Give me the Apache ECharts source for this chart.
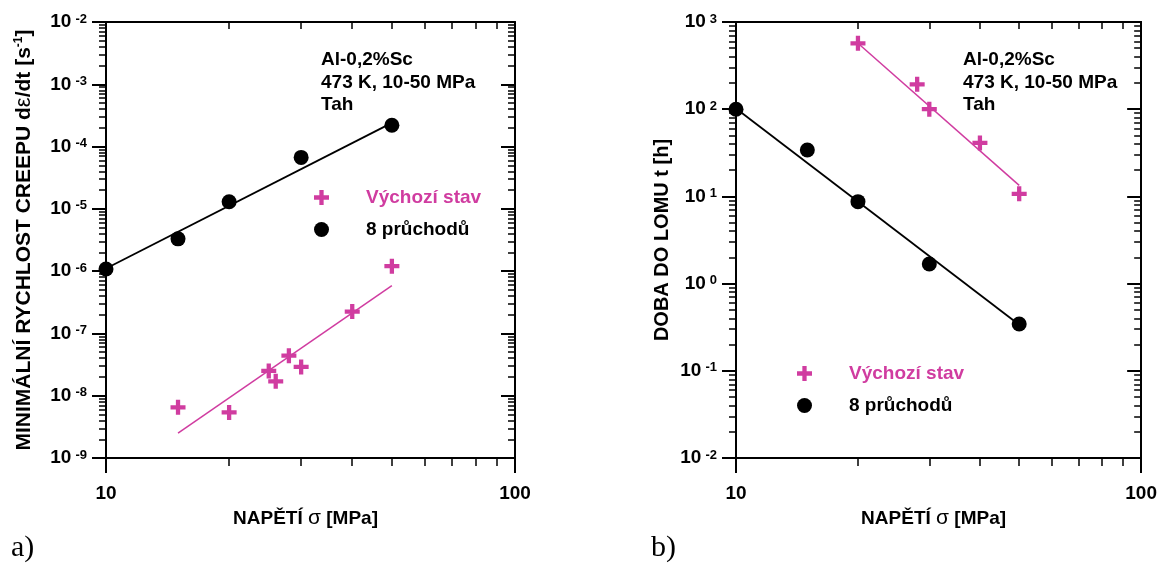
<!DOCTYPE html>
<html>
<head>
<meta charset="utf-8">
<script src="https://cdn.jsdelivr.net/npm/echarts@6/dist/echarts.min.js"></script>
<style>
  html, body { margin: 0; padding: 0; background: #fff; }
  #chart { width: 1160px; height: 564px; }
</style>
</head>
<body>
<div id="chart"></div>
<script>
// a) minimum creep rate vs. applied stress
const stressA_initial = [15, 20, 25, 26, 28, 30, 40, 50];
const rateA_initial   = [6.5e-9, 5.4e-9, 2.5e-8, 1.7e-8, 4.4e-8, 2.9e-8, 2.24e-7, 1.2e-6];
const stressA_ecap    = [10, 15, 20, 30, 50];
const rateA_ecap      = [1.08e-6, 3.3e-6, 1.3e-5, 6.7e-5, 2.2e-4];
const fitA_initial    = [[15, 2.5e-9], [50, 5.85e-7]];
const fitA_ecap       = [[10, 1.1e-6], [50, 2.4e-4]];

// b) time to fracture vs. applied stress
const stressB_initial = [20, 28, 30, 40, 50];
const timeB_initial   = [570, 193, 100, 41, 10.7];
const stressB_ecap    = [10, 15, 20, 30, 50];
const timeB_ecap      = [100, 34, 8.7, 1.68, 0.344];
const fitB_initial    = [[20, 570], [50, 13.4]];
const fitB_ecap       = [[10, 102], [50, 0.337]];

const seriesNames = ['Výchozí stav', '8 průchodů'];
const infoLines   = ['Al-0,2%Sc', '473 K, 10-50 MPa', 'Tah'];
const panelLabels = ['a)', 'b)'];

const PINK = '#d03ca0';
const FONT = '"Liberation Sans", Arial, sans-serif';
const SERIF = '"Liberation Serif", "Times New Roman", serif';
const PLUS = 'path://M5,0H9V5H14V9H9V14H5V9H0V5H5Z';

// tick positions for a decade axis drawn in log10 space
function minorLog(lo, hi) {
  const out = [];
  for (let n = lo; n < hi; n++) for (let k = 2; k <= 9; k++) out.push(n + Math.log10(k));
  return out;
}
function majorLog(lo, hi) {
  const out = [];
  for (let n = lo; n <= hi; n++) out.push(n);
  return out;
}
const zip = (xs, ys) => xs.map((x, i) => [x, ys[i]]);

const grids = [
  { left: 106, top: 22, width: 409, height: 436, yLo: -9, yHi: -2 },
  { left: 736, top: 22, width: 407, height: 436, yLo: -2, yHi: 3 }
];

const tickLabelRich = {
  b: { fontFamily: FONT, fontWeight: 'bold', fontSize: 19, color: '#000' },
  s: { fontFamily: FONT, fontWeight: 'bold', fontSize: 13, color: '#000', verticalAlign: 'top', padding: [0, 0, 0, 4] }
};

const xAxes = [], yAxes = [];
grids.forEach((g, gi) => {
  const lineStyle = { color: '#000', width: 2 };
  // main log axis: bottom
  xAxes.push({
    gridIndex: gi, type: 'log', logBase: 10, min: 10, max: 100, position: 'bottom',
    axisLine: { show: true, onZero: false, lineStyle },
    axisTick: { show: true, inside: false, length: 15, lineStyle: { color: '#000', width: 2 } },
    axisLabel: { show: true, margin: 26, fontFamily: FONT, fontWeight: 'bold', fontSize: 19, color: '#000' },
    splitLine: { show: false },
    name: '{b|NAPĚTÍ }{r|σ}{b| [MPa]}', nameLocation: 'middle', nameGap: 49,
    nameTextStyle: {
      padding: [0, 10, 0, 0],
      rich: {
        b: { fontFamily: FONT, fontWeight: 'bold', fontSize: 19, color: '#000' },
        r: { fontFamily: FONT, fontWeight: 'normal', fontSize: 21, color: '#000' }
      }
    }
  });
  // bottom minor ticks
  xAxes.push({
    gridIndex: gi, type: 'value', min: 1, max: 2, position: 'bottom',
    axisLine: { show: false, onZero: false },
    axisTick: { show: true, inside: false, length: 8, customValues: minorLog(1, 2), lineStyle: { color: '#000', width: 1.5 } },
    axisLabel: { show: false }, splitLine: { show: false }
  });
  // top frame with inward minor ticks
  xAxes.push({
    gridIndex: gi, type: 'value', min: 1, max: 2, position: 'top',
    axisLine: { show: true, onZero: false, lineStyle },
    axisTick: { show: true, inside: true, length: 7, customValues: minorLog(1, 2), lineStyle: { color: '#000', width: 1.5 } },
    axisLabel: { show: false }, splitLine: { show: false }
  });

  const yName = gi === 0
    ? '{b|MINIMÁLNÍ RYCHLOST CREEPU d}{r|ε}{b|/dt [s}{s|-1}{b|]}'
    : '{b|DOBA DO LOMU t [h]}';
  const nameSize = gi === 0 ? 21 : 20;
  // main log axis: left
  yAxes.push({
    gridIndex: gi, type: 'log', logBase: 10, min: Math.pow(10, g.yLo), max: Math.pow(10, g.yHi), position: 'left',
    axisLine: { show: true, onZero: false, lineStyle },
    axisTick: { show: true, inside: false, length: 14, lineStyle: { color: '#000', width: 2 } },
    axisLabel: {
      show: true, margin: 19,
      formatter: v => '{b|10}{s|' + Math.round(Math.log10(v)) + '}',
      rich: tickLabelRich
    },
    splitLine: { show: false },
    name: yName, nameLocation: 'middle', nameGap: gi === 0 ? 71 : 64,
    nameTextStyle: {
      rich: {
        b: { fontFamily: FONT, fontWeight: 'bold', fontSize: nameSize, color: '#000' },
        r: { fontFamily: FONT, fontWeight: 'normal', fontSize: nameSize + 1, color: '#000' },
        s: { fontFamily: FONT, fontWeight: 'bold', fontSize: 12, color: '#000', verticalAlign: 'top' }
      }
    }
  });
  // left minor ticks
  yAxes.push({
    gridIndex: gi, type: 'value', min: g.yLo, max: g.yHi, position: 'left',
    axisLine: { show: false, onZero: false },
    axisTick: { show: true, inside: false, length: 7, customValues: minorLog(g.yLo, g.yHi), lineStyle: { color: '#000', width: 1.5 } },
    axisLabel: { show: false }, splitLine: { show: false }
  });
  // right frame, inward major ticks
  yAxes.push({
    gridIndex: gi, type: 'value', min: g.yLo, max: g.yHi, position: 'right',
    axisLine: { show: true, onZero: false, lineStyle },
    axisTick: { show: true, inside: true, length: 14, customValues: majorLog(g.yLo, g.yHi), lineStyle: { color: '#000', width: 2 } },
    axisLabel: { show: false }, splitLine: { show: false }
  });
  // right frame, inward minor ticks
  yAxes.push({
    gridIndex: gi, type: 'value', min: g.yLo, max: g.yHi, position: 'right',
    axisLine: { show: false, onZero: false },
    axisTick: { show: true, inside: true, length: 7, customValues: minorLog(g.yLo, g.yHi), lineStyle: { color: '#000', width: 1.5 } },
    axisLabel: { show: false }, splitLine: { show: false }
  });
});

function pointSeries(name, gi, data, pink) {
  return {
    name, type: 'scatter', xAxisIndex: gi * 3, yAxisIndex: gi * 4, data,
    symbol: pink ? PLUS : 'circle', symbolSize: pink ? 15 : 15,
    itemStyle: { color: pink ? PINK : '#000', opacity: 1 },
    z: 5
  };
}
function fitSeries(name, gi, data, pink) {
  return {
    name, type: 'line', xAxisIndex: gi * 3, yAxisIndex: gi * 4, data,
    symbol: 'none', silent: true,
    lineStyle: { color: pink ? PINK : '#000', width: pink ? 1.5 : 1.8 },
    z: 3
  };
}

const series = [
  fitSeries('fit a1', 0, fitA_initial, true),
  fitSeries('fit a2', 0, fitA_ecap, false),
  pointSeries(seriesNames[0], 0, zip(stressA_initial, rateA_initial), true),
  pointSeries(seriesNames[1], 0, zip(stressA_ecap, rateA_ecap), false),
  fitSeries('fit b1', 1, fitB_initial, true),
  fitSeries('fit b2', 1, fitB_ecap, false),
  pointSeries(seriesNames[0], 1, zip(stressB_initial, timeB_initial), true),
  pointSeries(seriesNames[1], 1, zip(stressB_ecap, timeB_ecap), false)
];

function legendAt(left, top) {
  return {
    left, top, orient: 'vertical', itemWidth: 15, itemHeight: 15, itemGap: 13,
    selectedMode: false,
    data: [
      { name: seriesNames[0], textStyle: { color: PINK } },
      { name: seriesNames[1], textStyle: { color: '#000' } }
    ],
    textStyle: { fontFamily: FONT, fontWeight: 'bold', fontSize: 19, lineHeight: 18, padding: [0, 0, 0, 32] }
  };
}

function infoText(left) {
  return {
    type: 'text', left, top: 49,
    style: { text: infoLines.join('\n'), font: 'bold 19px ' + FONT, fill: '#000', lineHeight: 22.5 }
  };
}
function panelText(left, text) {
  return {
    type: 'text', left, top: 533,
    style: { text, font: '30px ' + SERIF, fill: '#000' }
  };
}

const chart = echarts.init(document.getElementById('chart'), null, { renderer: 'canvas' });
chart.setOption({
  animation: false,
  backgroundColor: '#fff',
  grid: grids.map(g => ({ left: g.left, top: g.top, width: g.width, height: g.height, containLabel: false })),
  xAxis: xAxes,
  yAxis: yAxes,
  legend: [legendAt(309, 183), legendAt(792, 359)],
  graphic: [
    infoText(321), infoText(963),
    panelText(11, panelLabels[0]), panelText(651, panelLabels[1])
  ],
  series
});
</script>
</body>
</html>
